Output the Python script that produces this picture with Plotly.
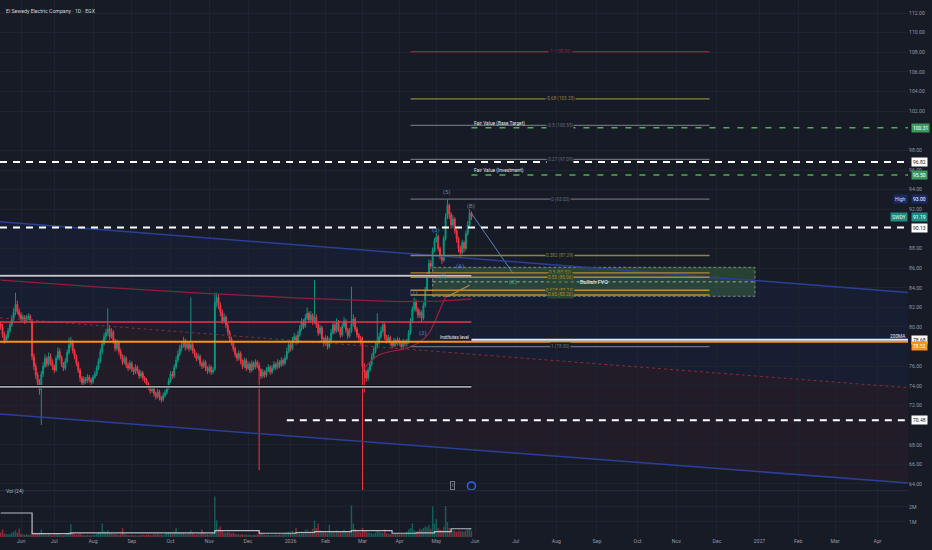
import numpy as np
import pandas as pd
import plotly.graph_objects as go

TITLE = "El Sewedy Electric Company · 1D · EGX"
HIST_START, HIST_END = "2025-05-15", "2026-05-28"
HOLIDAYS = ["2025-06-05", "2025-06-08", "2025-06-09", "2025-06-26", "2025-07-03", "2025-07-24",
            "2025-09-04", "2025-10-09", "2026-01-07", "2026-01-29", "2026-03-19", "2026-03-22",
            "2026-03-23", "2026-04-12", "2026-04-13"]

OPEN = [80.3, 80.0, 79.2, 78.6, 79.0, 79.6, 80.2, 80.8, 81.5, 82.3,
        81.6, 81.2, 80.8, 81.0, 80.6, 80.9, 81.1, 80.6, 77.0, 76.0,
        75.1, 74.4, 73.6, 75.2, 76.0, 76.8, 76.2, 77.0, 76.4, 76.0,
        75.6, 76.8, 77.5, 76.9, 76.2, 75.8, 76.5, 77.4, 78.2, 78.5,
        77.6, 77.0, 76.3, 75.6, 74.8, 74.3, 74.7, 74.5, 74.9, 74.6,
        74.4, 74.9, 75.2, 75.8, 76.5, 77.5, 78.3, 79.0, 79.4, 79.8,
        79.0, 79.5, 78.6, 77.8, 78.4, 77.5, 77.0, 76.4, 76.8, 76.1,
        75.8, 76.3, 75.7, 75.4, 75.9, 75.5, 75.0, 75.3, 74.8, 74.6,
        74.2, 73.9, 73.5, 73.8, 73.2, 72.9, 73.4, 72.8, 72.6, 73.0,
        73.3, 73.8, 74.5, 75.2, 75.0, 75.9, 76.6, 77.2, 77.8, 78.1,
        78.6, 77.9, 78.3, 77.8, 78.2, 77.6, 77.2, 76.8, 77.0, 76.3,
        76.0, 76.4, 75.8, 75.5, 75.9, 75.4, 75.7, 82.5, 83.0, 82.2,
        81.5, 80.6, 81.0, 80.2, 79.5, 78.8, 78.4, 77.8, 77.2, 76.8,
        77.3, 76.5, 76.0, 76.6, 75.8, 76.2, 75.6, 76.3, 75.9, 76.4,
        76.1, 75.6, 75.0, 75.4, 75.1, 75.6, 75.9, 75.4, 75.8, 76.2,
        75.9, 76.4, 76.1, 76.6, 76.3, 76.8, 77.5, 78.2, 77.8, 78.6,
        79.0, 78.5, 79.2, 79.8, 80.5, 80.1, 80.9, 81.4, 80.7, 81.2,
        80.5, 81.0, 80.2, 79.4, 79.9, 78.8, 78.3, 78.9, 78.0, 78.6,
        79.4, 80.2, 79.6, 80.5, 79.8, 79.2, 80.1, 80.6, 79.7, 79.1,
        79.6, 80.3, 80.8, 79.8, 79.2, 78.9, 78.6, 76.0, 75.4, 74.8,
        75.6, 76.2, 76.9, 77.5, 78.0, 78.4, 79.0, 79.6, 80.2, 79.0,
        78.6, 78.9, 78.4, 78.1, 78.6, 78.3, 78.7, 78.4, 78.0, 78.5,
        78.3, 78.5, 79.4, 80.6, 81.8, 82.6, 81.8, 81.2, 81.5, 80.9,
        82.2, 83.8, 85.3, 86.5, 86.2, 87.8, 88.8, 89.2, 88.0, 87.2,
        86.8, 89.0, 91.2, 92.4, 91.5, 90.4, 91.0, 89.8, 89.0, 88.0,
        87.6, 88.6, 88.0, 89.5, 90.4, 91.6]
HIGH = [80.6, 80.3, 79.5, 79.3, 79.9, 80.5, 81.2, 81.9, 83.5, 82.7,
        81.9, 81.5, 81.3, 81.2, 81.2, 81.4, 81.3, 80.8, 77.3, 76.3,
        75.4, 74.7, 75.5, 76.4, 77.2, 77.0, 77.4, 77.3, 76.7, 76.2,
        77.1, 77.9, 77.8, 77.1, 76.4, 76.8, 77.7, 78.9, 79.0, 78.7,
        77.8, 77.2, 76.5, 75.8, 75.0, 75.0, 74.9, 75.2, 75.1, 74.8,
        75.1, 75.5, 76.1, 76.8, 77.8, 78.7, 79.4, 79.8, 81.9, 80.2,
        79.9, 79.7, 78.8, 78.7, 78.6, 77.8, 77.2, 77.1, 77.0, 76.4,
        76.6, 76.5, 75.9, 76.2, 76.1, 75.7, 75.6, 75.5, 75.0, 74.8,
        74.4, 74.1, 74.1, 74.0, 73.4, 73.7, 73.6, 73.0, 73.3, 73.6,
        74.1, 74.8, 75.5, 75.5, 76.2, 77.0, 77.6, 78.2, 78.5, 79.0,
        78.8, 78.6, 78.5, 83.0, 78.4, 77.8, 77.4, 77.3, 77.2, 76.5,
        76.7, 76.6, 76.0, 76.2, 76.1, 75.9, 83.5, 83.5, 83.3, 82.5,
        81.8, 81.4, 81.2, 80.4, 79.7, 79.0, 78.6, 78.0, 77.4, 77.6,
        77.5, 76.7, 76.9, 76.8, 76.5, 76.4, 76.6, 76.5, 76.7, 76.6,
        76.4, 75.8, 75.7, 75.6, 75.9, 76.2, 76.1, 76.1, 76.5, 76.4,
        76.7, 76.6, 76.9, 76.8, 77.1, 77.9, 78.6, 78.4, 79.0, 79.4,
        79.2, 79.6, 80.2, 80.9, 80.8, 81.3, 82.0, 81.6, 81.6, 81.4,
        84.8, 81.3, 80.4, 80.2, 80.1, 79.0, 79.2, 79.1, 78.9, 79.8,
        80.6, 80.4, 80.9, 80.7, 80.0, 80.4, 81.0, 80.8, 79.9, 79.9,
        84.1, 81.3, 81.0, 80.0, 79.4, 79.1, 79.0, 76.3, 75.6, 75.9,
        76.5, 77.3, 77.9, 78.4, 81.4, 79.4, 80.0, 80.6, 80.4, 79.2,
        79.2, 79.1, 78.6, 78.9, 78.8, 79.0, 78.9, 78.6, 78.8, 78.7,
        78.8, 79.7, 80.9, 82.1, 83.0, 82.8, 82.0, 81.8, 81.7, 82.5,
        84.1, 85.6, 86.9, 86.8, 88.1, 89.1, 89.6, 89.4, 88.2, 87.4,
        89.3, 91.6, 93.0, 92.6, 91.7, 91.4, 91.2, 90.0, 89.2, 88.3,
        88.9, 88.8, 89.8, 90.8, 92.0, 91.8]
LOW = [79.7, 78.9, 78.3, 78.4, 78.8, 79.4, 80.0, 80.6, 81.2, 81.3,
       80.9, 80.5, 80.6, 80.3, 80.4, 80.7, 80.4, 76.6, 75.6, 74.7,
       74.0, 73.1, 70.0, 74.9, 75.8, 75.9, 76.0, 76.1, 75.6, 75.3,
       75.4, 76.6, 76.6, 75.9, 75.5, 75.6, 76.3, 77.2, 77.9, 77.3,
       76.7, 76.0, 75.3, 74.4, 74.0, 74.1, 74.2, 74.3, 74.3, 74.1,
       74.2, 74.7, 75.0, 75.6, 76.3, 77.2, 78.1, 78.7, 79.1, 78.7,
       78.8, 78.3, 77.5, 77.6, 77.2, 76.7, 76.1, 76.2, 75.8, 75.5,
       75.6, 75.4, 75.1, 75.2, 75.2, 74.7, 74.8, 74.5, 74.3, 73.9,
       73.6, 73.2, 73.3, 72.9, 72.6, 72.7, 72.5, 72.3, 72.4, 72.8,
       73.1, 73.6, 74.3, 74.7, 74.8, 75.7, 76.4, 77.0, 77.5, 77.9,
       77.6, 77.7, 77.5, 77.6, 77.3, 76.9, 76.5, 76.6, 76.0, 75.7,
       75.8, 75.5, 75.2, 75.3, 75.1, 75.2, 75.5, 82.0, 81.8, 81.1,
       80.3, 80.4, 79.9, 79.2, 78.5, 78.1, 77.5, 76.9, 76.5, 76.6,
       76.2, 75.7, 75.8, 75.5, 75.6, 75.3, 75.4, 75.6, 75.7, 75.8,
       65.4, 74.7, 74.8, 74.8, 74.9, 75.4, 75.1, 75.2, 75.6, 75.6,
       75.7, 75.8, 75.9, 76.0, 76.1, 76.6, 77.3, 77.5, 77.6, 78.4,
       78.2, 78.3, 79.0, 79.6, 79.8, 79.9, 80.7, 80.4, 80.5, 80.2,
       80.3, 79.9, 79.1, 79.2, 78.5, 78.0, 78.1, 77.7, 77.8, 78.4,
       79.2, 79.3, 79.4, 79.5, 78.9, 79.0, 79.9, 79.4, 78.8, 78.9,
       79.4, 80.0, 79.5, 78.9, 78.6, 78.2, 62.0, 73.3, 74.4, 74.5,
       75.4, 76.0, 76.7, 77.3, 77.8, 78.2, 78.8, 79.4, 78.7, 78.3,
       78.4, 78.1, 77.8, 77.9, 78.0, 78.1, 78.1, 77.7, 77.8, 78.0,
       78.0, 78.3, 79.2, 80.4, 81.6, 81.5, 80.9, 80.9, 80.5, 80.7,
       82.0, 83.6, 85.1, 85.9, 86.0, 87.6, 88.6, 87.7, 86.9, 86.4,
       86.6, 88.8, 91.0, 91.0, 90.0, 90.1, 89.5, 88.6, 87.6, 87.1,
       87.4, 87.6, 87.8, 89.3, 90.2, 90.9]
CLOSE = [80.0, 79.2, 78.6, 79.0, 79.6, 80.2, 80.8, 81.5, 82.3, 81.6,
         81.2, 80.8, 81.0, 80.6, 80.9, 81.1, 80.7, 77.0, 76.0, 75.1,
         74.4, 73.6, 75.2, 76.0, 76.8, 76.2, 77.0, 76.4, 76.0, 75.6,
         76.8, 77.5, 76.9, 76.2, 75.8, 76.5, 77.4, 78.2, 78.5, 77.6,
         77.0, 76.3, 75.6, 74.8, 74.3, 74.7, 74.5, 74.9, 74.6, 74.4,
         74.9, 75.2, 75.8, 76.5, 77.5, 78.3, 79.0, 79.4, 79.8, 79.0,
         79.5, 78.6, 77.8, 78.4, 77.5, 77.0, 76.4, 76.8, 76.1, 75.8,
         76.3, 75.7, 75.4, 75.9, 75.5, 75.0, 75.3, 74.8, 74.6, 74.2,
         73.9, 73.5, 73.8, 73.2, 72.9, 73.4, 72.8, 72.6, 73.0, 73.3,
         73.8, 74.5, 75.2, 75.0, 75.9, 76.6, 77.2, 77.8, 78.1, 78.6,
         77.9, 78.3, 77.8, 78.2, 77.6, 77.2, 76.8, 77.0, 76.3, 76.0,
         76.4, 75.8, 75.5, 75.9, 75.4, 75.6, 82.5, 83.0, 82.2, 81.5,
         80.6, 81.0, 80.2, 79.5, 78.8, 78.4, 77.8, 77.2, 76.8, 77.3,
         76.5, 76.0, 76.6, 75.8, 76.2, 75.6, 76.3, 75.9, 76.4, 76.1,
         75.6, 75.0, 75.4, 75.1, 75.6, 75.9, 75.4, 75.8, 76.2, 75.9,
         76.4, 76.1, 76.6, 76.3, 76.8, 77.5, 78.2, 77.8, 78.6, 79.0,
         78.5, 79.2, 79.8, 80.5, 80.1, 80.9, 81.4, 80.7, 81.2, 80.5,
         81.0, 80.2, 79.4, 79.9, 78.8, 78.3, 78.9, 78.0, 78.6, 79.4,
         80.2, 79.6, 80.5, 79.8, 79.2, 80.1, 80.6, 79.7, 79.1, 79.6,
         80.3, 80.8, 79.8, 79.2, 78.9, 78.5, 76.0, 75.4, 74.8, 75.6,
         76.2, 76.9, 77.5, 78.0, 78.4, 79.0, 79.6, 80.2, 79.0, 78.6,
         78.9, 78.4, 78.1, 78.6, 78.3, 78.7, 78.4, 78.0, 78.5, 78.3,
         78.5, 79.4, 80.6, 81.8, 82.6, 81.8, 81.2, 81.5, 80.9, 82.2,
         83.8, 85.3, 86.5, 86.2, 87.8, 88.8, 89.2, 88.0, 87.2, 86.8,
         89.0, 91.2, 92.4, 91.5, 90.4, 91.0, 89.8, 89.0, 88.0, 87.6,
         88.6, 88.0, 89.5, 90.4, 91.6, 91.19]
VOLUME_M = [0.30, 0.50, 0.25, 0.20, 0.18, 0.22, 0.30, 0.35, 0.45, 0.28,
            0.55, 0.22, 0.18, 0.15, 0.20, 0.16, 0.14, 0.45, 0.30, 0.25,
            0.22, 0.28, 0.50, 0.24, 0.18, 0.15, 0.20, 0.14, 0.12, 0.16,
            0.18, 0.22, 0.15, 0.13, 0.12, 0.17, 0.25, 0.35, 0.85, 0.30,
            0.20, 0.16, 0.18, 0.22, 0.15, 0.12, 0.10, 0.14, 0.12, 0.11,
            0.13, 0.15, 0.20, 0.28, 0.35, 0.90, 0.40, 0.30, 0.45, 0.25,
            0.22, 0.18, 0.20, 0.16, 0.15, 0.18, 0.60, 0.22, 0.15, 0.13,
            0.12, 0.14, 0.11, 0.13, 0.10, 0.12, 0.14, 0.16, 0.12, 0.15,
            0.18, 0.14, 0.12, 0.20, 0.16, 0.22, 0.15, 0.18, 0.14, 0.20,
            0.25, 0.30, 0.28, 0.22, 0.35, 0.60, 0.32, 0.28, 0.25, 0.30,
            0.22, 0.20, 0.26, 0.45, 0.24, 0.18, 0.16, 0.20, 0.22, 0.50,
            0.25, 0.18, 0.20, 0.16, 0.22, 0.30, 2.70, 1.10, 0.55, 0.70,
            0.40, 0.32, 0.28, 0.35, 0.30, 0.25, 0.28, 0.22, 0.20, 0.18,
            0.16, 0.20, 0.15, 0.18, 0.14, 0.16, 0.12, 0.15, 0.13, 0.18,
            0.45, 0.30, 0.20, 0.16, 0.14, 0.18, 0.12, 0.15, 0.13, 0.16,
            0.14, 0.18, 0.16, 0.20, 0.22, 0.30, 0.35, 0.28, 0.40, 0.32,
            0.60, 0.35, 0.30, 0.40, 0.36, 0.45, 0.50, 0.38, 0.42, 0.55,
            1.10, 0.60, 0.90, 0.45, 0.35, 0.40, 0.30, 0.28, 0.80, 0.40,
            0.35, 0.30, 0.45, 0.38, 0.32, 0.40, 0.50, 0.35, 0.30, 0.45,
            2.10, 0.90, 0.55, 0.40, 0.35, 0.30, 0.60, 0.45, 0.35, 0.30,
            0.28, 0.25, 0.22, 0.30, 0.45, 0.35, 0.30, 0.28, 0.50, 0.25,
            0.22, 0.20, 0.18, 0.22, 0.20, 0.25, 0.18, 0.22, 0.20, 0.26,
            0.35, 0.50, 0.60, 0.90, 0.45, 0.35, 0.40, 0.55, 0.50, 0.60,
            0.70, 0.65, 0.80, 0.55, 2.05, 0.90, 1.20, 0.60, 0.50, 0.45,
            0.70, 2.05, 1.00, 0.60, 0.50, 0.45, 0.40, 0.35, 0.42, 0.38,
            0.40, 0.35, 0.45, 0.50, 0.55, 0.40]

# volume MA (24) knots: bar index / value (M)
VOLMA_BAR = [0, 17, 38, 116, 140, 160, 170, 190, 212, 225, 235, 244, 255]
VOLMA_VAL = [1.6, 0.22, 0.27, 0.42, 0.25, 0.30, 0.36, 0.42, 0.25, 0.28, 0.36, 0.55, 0.55]
# 200 MA knots
MA200_BAR = [0, 54, 108, 162, 216, 238, 255]
MA200_VAL = [84.78, 84.07, 83.46, 82.95, 82.59, 82.64, 82.85]
# anchored VWAP knots
AVWAP_BAR = [196, 205, 220, 227, 232, 236, 239, 241]
AVWAP_VAL = [75.61, 77.14, 77.85, 78.46, 79.38, 80.91, 82.23, 83.05]
AVWAP2_BAR = [241, 248, 254]
AVWAP2_VAL = [83.05, 83.66, 84.27]

MONTH_TICKS = ["2025-06-01", "2025-07-01", "2025-08-03", "2025-09-01", "2025-10-01", "2025-11-02",
               "2025-12-01", "2026-01-01", "2026-02-01", "2026-03-01", "2026-04-01", "2026-05-03",
               "2026-06-01", "2026-07-01", "2026-08-02", "2026-09-01", "2026-10-01", "2026-11-01",
               "2026-12-01", "2027-01-03", "2027-02-01", "2027-03-01", "2027-04-01"]
MONTH_LABELS = ["Jun", "Jul", "Aug", "Sep", "Oct", "Nov", "Dec", "2026", "Feb", "Mar", "Apr", "May",
                "Jun", "Jul", "Aug", "Sep", "Oct", "Nov", "Dec", "2027", "Feb", "Mar", "Apr"]
PRICE_TICKS = [64, 66, 68, 72, 74, 76, 80, 82, 84, 86, 88, 92, 94, 96, 98, 102, 104, 106, 108, 110, 112]

FIB_HIGH, FIB_LOW = 93.03, 78.00
FIB_LEVELS = [-1, -0.68, -0.5, -0.27, 0, 0.382, 0.5, 0.53, 0.618, 0.65, 1]

WAVE_TEXT = ["(1)", "(2)", "(3)", "(4)", "(5)", "(A)", "(B)", "(C)"]
WAVE_BAR = [224, 229, 236, 239.6, 242, 249, 255, 277.5]
WAVE_PRICE = [83.6, 79.4, 89.9, 85.2, 93.75, 86.2, 92.35, 84.55]

# ---------------- styling ----------------
BG = "#171b26"
GRID = "#1f2330"
TXT = "#9598a1"
UP, DOWN = "#089981", "#f23645"
FONT = "Roboto"

hist_days = pd.bdate_range(HIST_START, HIST_END, freq="C", weekmask="Sun Mon Tue Wed Thu", holidays=HOLIDAYS)
fut_days = pd.bdate_range(pd.Timestamp(HIST_END) + pd.Timedelta(days=1), "2027-07-31", freq="C",
                          weekmask="Sun Mon Tue Wed Thu")
ALL_DAYS = hist_days.append(fut_days)


def pos(b):
    k = int(np.floor(b))
    f = b - k
    if k < 0:
        t = ALL_DAYS[0] + pd.Timedelta(hours=12 + 24 * b)
    elif f <= 0.5:
        t = ALL_DAYS[k] + pd.Timedelta(hours=12 + 24 * f)
    else:
        t = ALL_DAYS[k + 1] + pd.Timedelta(hours=12 - 24 * (1 - f))
    return t.strftime("%Y-%m-%d %H:%M:%S")


N = len(CLOSE)
dates = [pos(i) for i in range(N)]
XR = [pos(-0.38), pos(491.5)]
RB = [dict(bounds=["fri", "sun"]), dict(values=HOLIDAYS)]
tickx = [(pd.Timestamp(d) + pd.Timedelta(hours=12)).strftime("%Y-%m-%d %H:%M:%S") for d in MONTH_TICKS]

fig = go.Figure()
fig.add_trace(go.Candlestick(
    x=dates, open=OPEN, high=HIGH, low=LOW, close=CLOSE, xaxis="x", yaxis="y",
    increasing=dict(line=dict(color=UP, width=1), fillcolor=UP),
    decreasing=dict(line=dict(color=DOWN, width=1), fillcolor=DOWN),
    whiskerwidth=0, showlegend=False, hoverinfo="skip"))

vol_colors = ["rgba(8,153,129,0.55)" if c >= o else "rgba(242,54,69,0.55)" for o, c in zip(OPEN, CLOSE)]
fig.add_trace(go.Bar(x=dates, y=VOLUME_M, marker=dict(color=vol_colors, line=dict(width=0)),
                     xaxis="x2", yaxis="y2", showlegend=False, hoverinfo="skip"))
fig.add_trace(go.Scatter(x=[pos(b) for b in VOLMA_BAR], y=VOLMA_VAL, mode="lines",
                         line=dict(color="#b8bbc4", width=1.2, shape="hv"),
                         xaxis="x2", yaxis="y2", showlegend=False, hoverinfo="skip"))

fig.add_trace(go.Scatter(x=[pos(b) for b in MA200_BAR], y=MA200_VAL, mode="lines",
                         line=dict(color="#8e1f3c", width=1.3), showlegend=False, hoverinfo="skip"))
fig.add_trace(go.Scatter(x=[pos(b) for b in AVWAP_BAR], y=AVWAP_VAL, mode="lines",
                         line=dict(color="#9b2240", width=1.2, shape="spline"), showlegend=False, hoverinfo="skip"))
fig.add_trace(go.Scatter(x=[pos(b) for b in AVWAP2_BAR], y=AVWAP2_VAL, mode="lines",
                         line=dict(color="#b58a4a", width=1.2, shape="spline"), showlegend=False, hoverinfo="skip"))
# projection (B) -> (C)
fig.add_trace(go.Scatter(x=[pos(WAVE_BAR[6]), pos(WAVE_BAR[7])], y=[91.58, 85.47], mode="lines",
                         line=dict(color="#5b7fc4", width=1), showlegend=False, hoverinfo="skip"))
# event marker circle
fig.add_trace(go.Scatter(x=[pos(255)], y=[63.8], mode="markers",
                         marker=dict(symbol="circle-open", size=8, color="#2962ff", line=dict(width=1.5)),
                         showlegend=False, hoverinfo="skip"))

shapes = []
# channel
UP0, UP1 = 90.73, 83.52
LO0, LO1 = 71.12, 64.10
MID0, MID1 = (UP0 + LO0) / 2, (UP1 + LO1) / 2
shapes.append(dict(type="path", xref="paper", yref="y", layer="between", line=dict(width=0),
                   fillcolor="rgba(41,98,255,0.055)",
                   path=f"M0,{UP0} L1,{UP1} L1,{MID1} L0,{MID0} Z"))
shapes.append(dict(type="path", xref="paper", yref="y", layer="between", line=dict(width=0),
                   fillcolor="rgba(242,54,69,0.05)",
                   path=f"M0,{MID0} L1,{MID1} L1,{LO1} L0,{LO0} Z"))
shapes.append(dict(type="line", xref="paper", yref="y", x0=0, x1=1, y0=UP0, y1=UP1,
                   line=dict(color="#2b3f99", width=1.5)))
shapes.append(dict(type="line", xref="paper", yref="y", x0=0, x1=1, y0=LO0, y1=LO1,
                   line=dict(color="#2b3f99", width=1.5)))
shapes.append(dict(type="line", xref="paper", yref="y", x0=0, x1=1, y0=MID0, y1=MID1,
                   line=dict(color="#8c2a3a", width=1, dash="dot")))

# horizontal key levels
def hline(y, x0, x1, color, width, dash="solid", layer="above"):
    shapes.append(dict(type="line", xref="x", yref="y", x0=x0, x1=x1, y0=y, y1=y, layer=layer,
                       line=dict(color=color, width=width, dash=dash)))

hline(85.22, XR[0], pos(255), "#0b0d12", 3.5)
hline(85.22, XR[0], pos(255), "#c3c6cd", 1.8)
hline(73.9, XR[0], pos(255), "#0b0d12", 3.5)
hline(73.9, XR[0], pos(255), "#a3a6ae", 1.8)
hline(80.5, XR[0], pos(255), "#e8364b", 1.6)
hline(78.5, XR[0], XR[1], "#f7931a", 2)
hline(78.7, pos(255), XR[1], "#e8e9ec", 2)
hline(96.82, XR[0], XR[1], "#ffffff", 2, "7px,6px")
hline(90.13, XR[0], XR[1], "#ffffff", 2, "7px,6px")
hline(70.48, pos(155), XR[1], "#ffffff", 2, "7px,6px")
hline(100.31, pos(255), XR[1], "#4caf50", 1.5, "6px,8px")
hline(95.50, pos(255), XR[1], "#4caf50", 1.5, "6px,8px")

# FVG box
FVG_X0, FVG_X1 = pos(234), pos(408.6)
shapes.append(dict(type="rect", xref="x", yref="y", x0=FVG_X0, x1=FVG_X1, y0=83.13, y1=86.08,
                   layer="between", fillcolor="rgba(80,160,80,0.30)",
                   line=dict(color="rgba(160,170,160,0.7)", width=1, dash="3px,2px")))
hline(84.6, FVG_X0, FVG_X1, "rgba(210,215,210,0.7)", 1, "dot")

# fibonacci
FIB_COL = {-1: "#7e2a3b", -0.68: "#8a8540", -0.5: "#6a6d78", -0.27: "#6a6d78", 0: "#6a6d78",
           0.382: "#8a8540", 0.5: "#b08a30", 0.53: "#b08a30", 0.618: "#c48a2c", 0.65: "#c48a2c", 1: "#6a6d78"}
annotations = []
for lv in FIB_LEVELS:
    p = FIB_HIGH - lv * (FIB_HIGH - FIB_LOW)
    hline(p, pos(222), pos(384), FIB_COL[lv], 1.4)
    inside = 83.13 <= p <= 86.08
    annotations.append(dict(x=pos(303), y=p, xref="x", yref="y", text=f"{lv:g} ({p:.2f})",
                            showarrow=False, font=dict(size=4.6, color=FIB_COL[lv], family=FONT),
                            bgcolor="#2a4530" if inside else BG, borderpad=0))

# pane separator
shapes.append(dict(type="line", xref="paper", yref="paper", x0=0, x1=1, y0=0.0863, y1=0.0863,
                   line=dict(color="#2a2e39", width=1)))

# texts
def txt(x, y, s, size=5, color="#d1d4dc", xanchor="center", xref="x", yref="y", **kw):
    annotations.append(dict(x=x, y=y, xref=xref, yref=yref, text=s, showarrow=False, xanchor=xanchor,
                            font=dict(size=size, color=color, family=FONT), **kw))

txt(0.004, 0.989, TITLE, size=5.2, xanchor="left", xref="paper", yref="paper")
txt(0.004, 0.0745, "Vol (24)", size=5, color="#b2b5be", xanchor="left", xref="paper", yref="paper")
txt(pos(255.3), 100.75, "Fair Value (Base Target)", size=4.8, color="#e6e7ea", xanchor="left")
txt(pos(255.3), 95.95, "Fair Value (Investment)", size=4.8, color="#e6e7ea", xanchor="left")
txt(pos(255), 78.95, "Institutes level", size=4.5, color="#e6e7ea", xanchor="right")
txt(1.0, 79.02, "200MA", size=4.8, color="#e6e7ea", xanchor="right", xref="paper")
txt(pos(321.3), 84.6, "Bullish FVG", size=5.5, color="#ffffff")
WCOL = ["#5a86c8", "#5a86c8", "#5a86c8", "#3fa59a", "#5a86c8", "#5a86c8", "#5a86c8", "#3fa59a"]
for t, b, p, c in zip(WAVE_TEXT, WAVE_BAR, WAVE_PRICE, WCOL):
    txt(pos(b), p, t, size=6, color=c)
annotations.append(dict(x=pos(245), y=63.8, xref="x", yref="y", text="I", showarrow=False,
                        font=dict(size=4.5, color="#b2b5be", family=FONT), bordercolor="#787b86",
                        borderwidth=1, borderpad=1, bgcolor=BG))

# price scale labels
def plabel(y, s, bg, fg, x=1.003, xanchor="left"):
    annotations.append(dict(x=x, y=y, xref="paper", yref="y", text=s, showarrow=False, xanchor=xanchor,
                            font=dict(size=5, color=fg, family=FONT), bgcolor=bg, borderpad=1))

plabel(100.31, "100.31", "#3c9a5f", "#ffffff")
plabel(96.82, "96.82", "#ffffff", "#131722")
plabel(95.50, "95.50", "#3c9a5f", "#ffffff")
plabel(93.00, "High", "#1c2a63", "#d8def5", x=1.0, xanchor="right")
plabel(93.00, "93.00", "#1c2a63", "#ffffff")
plabel(91.19, "SWDY", "#1e8c7e", "#e8f5f2", x=1.0, xanchor="right")
plabel(91.19, "91.19", "#1e8c7e", "#ffffff")
plabel(90.13, "90.13", "#ffffff", "#131722")
plabel(78.68, "78.68", "#ffffff", "#131722")
plabel(78.02, "78.52", "#f7931a", "#ffffff")
plabel(70.48, "70.48", "#ffffff", "#131722")

axis_font = dict(size=5.2, color=TXT, family=FONT)
fig.update_layout(
    width=932, height=550, margin=dict(l=0, r=24, t=0, b=13, pad=0, autoexpand=False),
    paper_bgcolor=BG, plot_bgcolor=BG, showlegend=False, hovermode=False,
    xaxis=dict(domain=[0, 1], anchor="y", range=XR, rangebreaks=RB, showticklabels=False,
               tickvals=tickx, showgrid=True, gridcolor=GRID, zeroline=False, showline=False,
               rangeslider=dict(visible=False), ticks="", automargin=False),
    xaxis2=dict(domain=[0, 1], anchor="y2", range=XR, rangebreaks=RB, matches="x",
                tickvals=tickx, ticktext=MONTH_LABELS, tickfont=axis_font, showgrid=True,
                gridcolor=GRID, zeroline=False, showline=False, ticks="", automargin=False),
    yaxis=dict(domain=[0.0875, 1], range=[63.38, 113.33], side="right", tickvals=PRICE_TICKS,
               tickformat=".2f", tickfont=axis_font, showgrid=True, gridcolor=GRID, zeroline=False,
               ticks="", showline=False, automargin=False),
    yaxis2=dict(domain=[0, 0.0838], range=[0, 3.0], side="right", tickvals=[1, 2],
                ticktext=["1M", "2M"], tickfont=axis_font, showgrid=True, gridcolor=GRID,
                zeroline=False, ticks="", automargin=False),
    shapes=shapes, annotations=annotations,
)

fig.write_html("out.html", config={"displayModeBar": False, "staticPlot": True},
               post_script="document.body.style.margin='0';document.body.style.padding='0';"
                           "document.body.style.background='" + BG + "';")
